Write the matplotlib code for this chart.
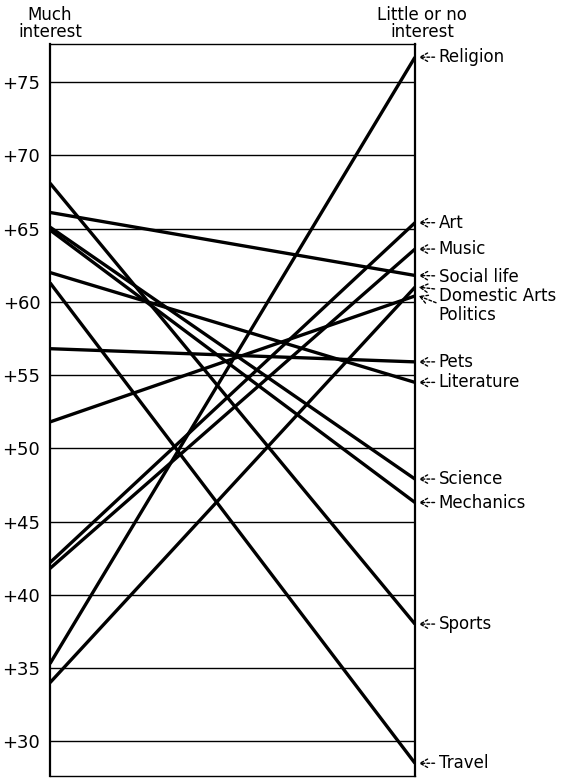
import matplotlib.pyplot as plt

# Data
categories = ['Religion', 'Art', 'Music', 'Social life', 'Domestic Arts', 'Politics',
              'Pets', 'Literature', 'Science', 'Mechanics', 'Sports', 'Travel']
much_interest = [35.3, 42.2, 41.8, 66.1, 34.0, 51.8, 56.8, 62.0, 65.1, 64.9, 68.1, 61.3]
little_interest = [76.7, 65.4, 63.6, 61.8, 61.0, 60.4, 55.9, 54.5, 47.9, 46.3, 38.0, 28.5]
ticks = [30, 35, 40, 45, 50, 55, 60, 65, 70, 75]

plt.rcParams['font.family'] = 'DejaVu Sans'

fig = plt.figure(figsize=(5.7, 7.78), dpi=100)
ax = fig.add_axes([50 / 570, 2 / 778, 365 / 570, 732 / 778])

for y in ticks:
    ax.axhline(y, color='black', lw=1.0, zorder=1)

for l, r in zip(much_interest, little_interest):
    ax.plot([0, 1], [l, r], color='black', lw=2.4, solid_capstyle='butt', zorder=3)

ax.set_xlim(0, 1)
ax.set_ylim(27.63, 77.6)
ax.set_xticks([])
ax.set_yticks(ticks)
ax.set_yticklabels(['+%d' % t for t in ticks], fontsize=13)
ax.tick_params(axis='y', length=0, pad=7)
for side in ['left', 'right']:
    ax.spines[side].set_linewidth(1.6)
for side in ['top', 'bottom']:
    ax.spines[side].set_linewidth(1.0)

# labels on the right, the crowded ones nudged apart
nudge = {'Social life': -0.1, 'Domestic Arts': -0.6, 'Politics': -1.3}
for name, r in zip(categories, little_interest):
    ty = r + nudge.get(name, 0)
    ax.annotate(name, xy=(1.01, r), xytext=(1.065, ty), textcoords='data',
                fontsize=12, va='center', ha='left', annotation_clip=False,
                arrowprops=dict(arrowstyle='->,head_length=0.45,head_width=0.25',
                                linestyle=(0, (2, 1.5)), lw=1.0, color='black',
                                shrinkA=1, shrinkB=0))

fig.text(50 / 570, 1 - 6 / 778, 'Much\ninterest', ha='center', va='top',
         fontsize=12, linespacing=0.9)
fig.text(422 / 570, 1 - 6 / 778, 'Little or no\ninterest', ha='center', va='top',
         fontsize=12, linespacing=0.9)

fig.savefig('out.png', dpi=100)
